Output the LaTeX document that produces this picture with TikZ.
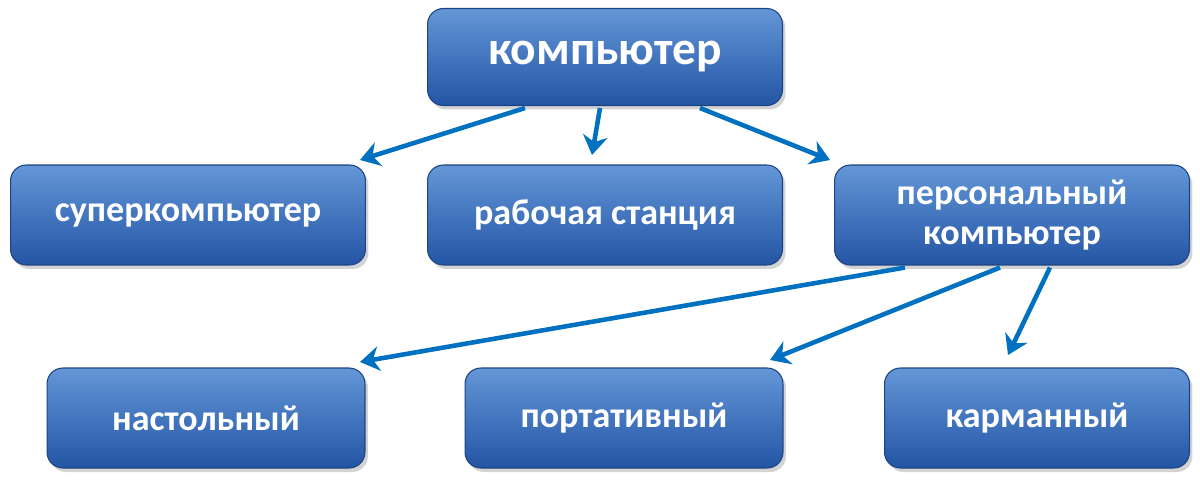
\documentclass[tikz,border=0pt]{standalone}
\usepackage{fontspec}
\setmainfont{Carlito}
\usetikzlibrary{shadows,arrows.meta}
\definecolor{arr}{RGB}{0,112,192}
\definecolor{btop}{RGB}{100,150,215}
\definecolor{bbot}{RGB}{35,85,165}
\tikzset{
 box/.style={rounded corners=9pt, top color=btop, bottom color=bbot, draw=bbot!80!black, line width=0.6pt,
   minimum width=#1, minimum height=2cm, text=white, font=\bfseries\fontsize{20.5}{23}\selectfont, align=center,
   drop shadow={shadow xshift=0.06cm, shadow yshift=-0.08cm, opacity=0.35}},
 conn/.style={draw=arr, line width=2.6pt, -{Stealth[length=11pt,width=14pt]}}
}
\begin{document}
\begin{tikzpicture}[x=0.02cm,y=-0.02cm]
\useasboundingbox (0,0) rectangle (1200,481);
\node[box=7.1cm, minimum height=1.94cm, font=\bfseries\fontsize{27}{29}\selectfont] (komp) at (605,57) {компьютер};
\node[box=7.1cm] (super) at (188,215) {суперкомпьютер};
\node[box=7.1cm] (rab) at (605,215) {рабочая станция};
\node[box=7.1cm] (pers) at (1012,215) {персональный\\компьютер};
\node[box=6.36cm] (nast) at (206,418) {настольный};
\node[box=6.36cm] (port) at (624,418) {портативный};
\node[box=6.1cm] (karm) at (1037,418) {карманный};
\coordinate (e1) at (360,160);
\coordinate (e2) at (592,155);
\coordinate (e3) at (830,160);
\coordinate (e4) at (360,362);
\coordinate (e5) at (770,360);
\coordinate (e6) at (1008,355);
\draw[conn] (komp.south) ++(-80,2) -- (e1);
\draw[conn] (komp.south) ++(-5,2) -- (e2);
\draw[conn] (komp.south) ++(95,2) -- (e3);
\draw[conn] (pers.south) ++(-107,2) -- (e4);
\draw[conn] (pers.south) ++(-12,2) -- (e5);
\draw[conn] (pers.south) ++(38,2) -- (e6);
\end{tikzpicture}
\end{document}
